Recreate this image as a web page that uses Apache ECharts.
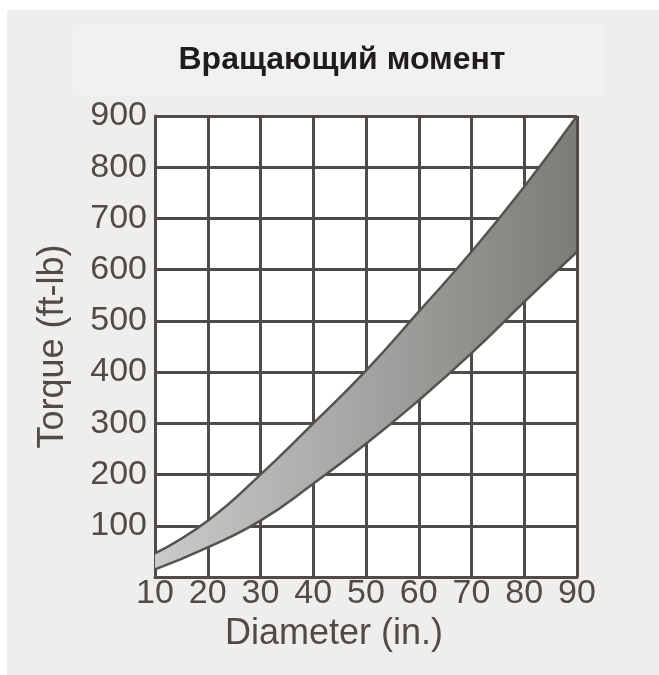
<!DOCTYPE html>
<html>
<head>
<meta charset="utf-8">
<style>
  html, body { margin: 0; padding: 0; background: #ffffff; }
  #chart { width: 659px; height: 675px; }
</style>
<script src="https://cdn.jsdelivr.net/npm/echarts@6/dist/echarts.min.js"></script>
</head>
<body>
<div id="chart"></div>
<script>
// Torque range versus diameter
const diameters = [10, 20, 30, 40, 50, 60, 70, 80, 90];
const torqueUpper = [46, 110, 200, 300, 403, 518, 635, 762, 900];
const torqueLower = [15, 58, 110, 182, 260, 345, 437, 537, 635];
const yTickLabels = [100, 200, 300, 400, 500, 600, 700, 800, 900];

const titleText = 'Вращающий момент';
const xName = 'Diameter (in.)';
const yName = 'Torque (ft-lb)';

const ink = '#4f4b48';
const font = '"Liberation Sans", Arial, sans-serif';

// band thickness stacked on top of the lower curve
const bandWidth = torqueUpper.map((v, i) => v - torqueLower[i]);

const chart = echarts.init(document.getElementById('chart'), null, { renderer: 'canvas' });

chart.setOption({
  backgroundColor: '#ffffff',
  animation: false,
  graphic: [
    { type: 'rect', z: -100, shape: { x: 7, y: 10, width: 652, height: 665 }, style: { fill: '#efeeec' } },
    { type: 'rect', z: -99, shape: { x: 73, y: 25, width: 533, height: 70 }, style: { fill: '#f1f1f1' } }
  ],
  title: {
    text: titleText,
    left: 337,
    top: 39,
    textAlign: 'center',
    textStyle: { fontFamily: font, fontSize: 32, fontWeight: 'bold', color: '#1f1c1b' }
  },
  grid: {
    left: 155, top: 116, right: 82, bottom: 98,
    show: true, backgroundColor: '#ffffff', borderWidth: 0
  },
  xAxis: {
    type: 'category',
    data: diameters.map(String),
    boundaryGap: false,
    name: xName,
    nameLocation: 'middle',
    nameGap: 36,
    nameTextStyle: { fontFamily: font, fontSize: 36, color: ink, padding: [0, 64, 0, 0] },
    axisLine: { show: true, lineStyle: { color: ink, width: 3 } },
    axisTick: { show: false },
    splitLine: { show: true, lineStyle: { color: ink, width: 3 } },
    axisLabel: {
      margin: 0, interval: 0,
      fontFamily: font, fontSize: 34, color: ink
    }
  },
  yAxis: {
    type: 'value',
    min: 0, max: 900, interval: 100,
    name: yName,
    nameLocation: 'middle',
    nameGap: 84,
    nameTextStyle: { fontFamily: font, fontSize: 36, color: ink },
    axisLine: { show: true, lineStyle: { color: ink, width: 3 } },
    axisTick: { show: false },
    splitLine: { show: true, lineStyle: { color: ink, width: 3 } },
    axisLabel: {
      margin: 8,
      fontFamily: font, fontSize: 34, color: ink,
      formatter: v => (yTickLabels.includes(v) ? String(v) : '')
    }
  },
  series: [
    {
      name: 'lower',
      type: 'line',
      stack: 'band',
      data: torqueLower,
      smooth: true,
      symbol: 'none',
      lineStyle: { color: '#55524f', width: 2.5 }
    },
    {
      name: 'upper',
      type: 'line',
      stack: 'band',
      data: bandWidth,
      smooth: true,
      symbol: 'none',
      lineStyle: { color: '#55524f', width: 2.5 },
      areaStyle: {
        opacity: 1,
        color: new echarts.graphic.LinearGradient(0, 0, 1, 0, [
          { offset: 0, color: '#cacac8' },
          { offset: 0.5, color: '#a4a4a2' },
          { offset: 1, color: '#7c7b78' }
        ])
      }
    },
    {
      // frame edges at 90 in. and 900 ft-lb, drawn above the band
      name: 'frame',
      type: 'line',
      data: [],
      silent: true,
      markLine: {
        silent: true,
        symbol: 'none',
        label: { show: false },
        lineStyle: { color: ink, width: 3, type: 'solid' },
        data: [{ xAxis: String(diameters[diameters.length - 1]) }, { yAxis: 900 }]
      }
    }
  ]
});
</script>
</body>
</html>
